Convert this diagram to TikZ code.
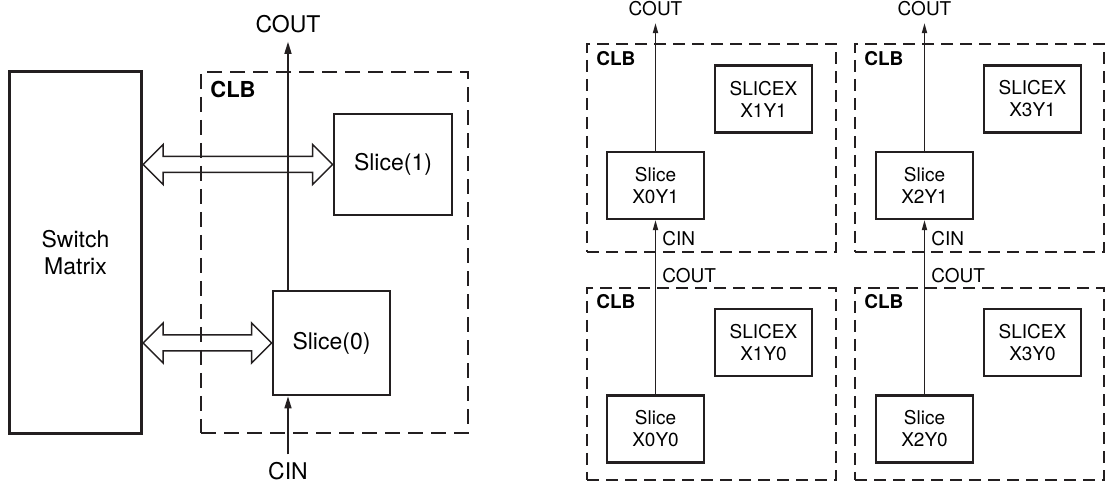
\documentclass[tikz,border=0pt]{standalone}
\usepackage{fontspec}
\setmainfont{TeX Gyre Heros}
\usepackage{xcolor}
\definecolor{cLine}{HTML}{231F20}
\usepackage{tikz}
\usetikzlibrary{positioning,arrows.meta,calc}
\tikzset{
  txt-big/.style={font=\fontsize{11.5}{13.5}\selectfont},
  txt-small/.style={font=\fontsize{9.5}{11}\selectfont},
  node-matrix/.style={draw=cLine,line width=1.6pt,align=center,inner sep=0pt,
    minimum width=66pt,minimum height=181pt,txt-big},
  node-slice/.style={draw=cLine,line width=1.4pt,align=center,inner sep=0pt,txt-big},
  node-subslice/.style={draw=cLine,line width=1.2pt,align=center,inner sep=0pt,
    minimum width=48.5pt,minimum height=33.5pt,txt-small},
  node-clb/.style={draw=cLine,line width=1.4pt,dash pattern=on 7.5pt off 4pt,inner sep=0pt},
  node-clb-small/.style={draw=cLine,line width=1.2pt,dash pattern=on 6pt off 3.5pt,
    inner sep=0pt,minimum width=124.5pt},
  tag-big/.style={anchor=base west,inner sep=0pt,font=\bfseries\fontsize{11}{13}\selectfont},
  tag-small/.style={anchor=base west,inner sep=0pt,font=\bfseries\fontsize{9.5}{11}\selectfont},
  lbl-big/.style={anchor=base,inner sep=4pt,txt-big},
  lbl-small/.style={anchor=base,inner sep=3.5pt,txt-small},
  lbl-side/.style={anchor=base west,inner sep=0pt,txt-small},
  arrow-carry/.style={-{Triangle[length=6pt,width=3.5pt]},line width=0.75pt,draw=cLine},
  arrow-carry-small/.style={-{Triangle[length=5pt,width=2.6pt]},line width=0.65pt,draw=cLine},
  arrow-bus/.style={line width=0.75pt,draw=cLine,line join=miter},
}

\begin{document}
\begin{tikzpicture}[x=0.5pt,y=-0.5pt]
  \useasboundingbox (0,0) rectangle (1105,486);
  % left: one CLB next to the switch matrix
  \node[node-matrix] (sm) at (75.5,252.5) {Switch\\Matrix};
  \node[node-clb,minimum width=133.5pt,minimum height=180.5pt] (clbA) at (334.5,252.5) {};
  \node[tag-big] (clbA-tag) at (210,98) {CLB};
  \node[node-slice,minimum width=59pt,minimum height=50.5pt] (s1) at (393,164.5) {Slice(1)};
  \node[node-slice,minimum width=58.5pt,minimum height=52pt] (s0) at (331.5,343) {Slice(0)};
  \node[lbl-big] (coutA) at (288,33) {COUT};
  \node[lbl-big] (cinA) at (288,480) {CIN};
  \draw[arrow-carry] (s0.north -| coutA) -- (coutA);
  \draw[arrow-carry] (cinA) -- (s0.south -| cinA);
  \draw[arrow-bus] (sm.east |- s1.west) -- ++(20,-20) -- ++(0,12)
    -- ($(s1.west)+(-20,-8)$) -- ++(0,-12) -- (s1.west) -- ++(-20,20) -- ++(0,-12)
    -- ($(sm.east |- s1.west)+(20,8)$) -- ++(0,12) -- cycle;
  \draw[arrow-bus] (sm.east |- s0.west) -- ++(20,-20) -- ++(0,12)
    -- ($(s0.west)+(-20,-8)$) -- ++(0,-12) -- (s0.west) -- ++(-20,20) -- ++(0,-12)
    -- ($(sm.east |- s0.west)+(20,8)$) -- ++(0,12) -- cycle;

  % right: four CLBs, carry chain per column
  \node[node-clb-small,minimum height=104pt] (clb01) at (711.5,148) {};
  \node[node-clb-small,minimum height=96pt] (clb00) at (711.5,384) {};
  \node[node-clb-small,minimum height=104pt] (clb21) at (979.5,148) {};
  \node[node-clb-small,minimum height=96pt] (clb20) at (979.5,384) {};
  \node[tag-small] at (596,66) {CLB};
  \node[tag-small] at (596,309) {CLB};
  \node[tag-small] at (864,66) {CLB};
  \node[tag-small] at (864,309) {CLB};
  \node[node-subslice] (sx11) at (763.5,99) {SLICEX\\X1Y1};
  \node[node-subslice] (sx10) at (763.5,342.5) {SLICEX\\X1Y0};
  \node[node-subslice] (sx31) at (1032.5,99) {SLICEX\\X3Y1};
  \node[node-subslice] (sx30) at (1032.5,342.5) {SLICEX\\X3Y0};
  \node[node-subslice] (s01) at (655.5,185.5) {Slice\\X0Y1};
  \node[node-subslice] (s00) at (655.5,429) {Slice\\X0Y0};
  \node[node-subslice] (s21) at (924.5,185.5) {Slice\\X2Y1};
  \node[node-subslice] (s20) at (924.5,429) {Slice\\X2Y0};
  \node[lbl-small] (cout01) at (655.5,15.5) {COUT};
  \node[lbl-small] (cout21) at (924.5,15.5) {COUT};
  \node[lbl-side] (cin01) at (662,246) {CIN};
  \node[lbl-side] (cout00) at (662,283) {COUT};
  \node[lbl-side] (cin21) at (931,246) {CIN};
  \node[lbl-side] (cout20) at (931,283) {COUT};
  \draw[arrow-carry-small] (s01) -- (cout01);
  \draw[arrow-carry-small] (s21) -- (cout21);
  \draw[arrow-carry-small] (s00) -- (s01);
  \draw[arrow-carry-small] (s20) -- (s21);
\end{tikzpicture}
\end{document}
